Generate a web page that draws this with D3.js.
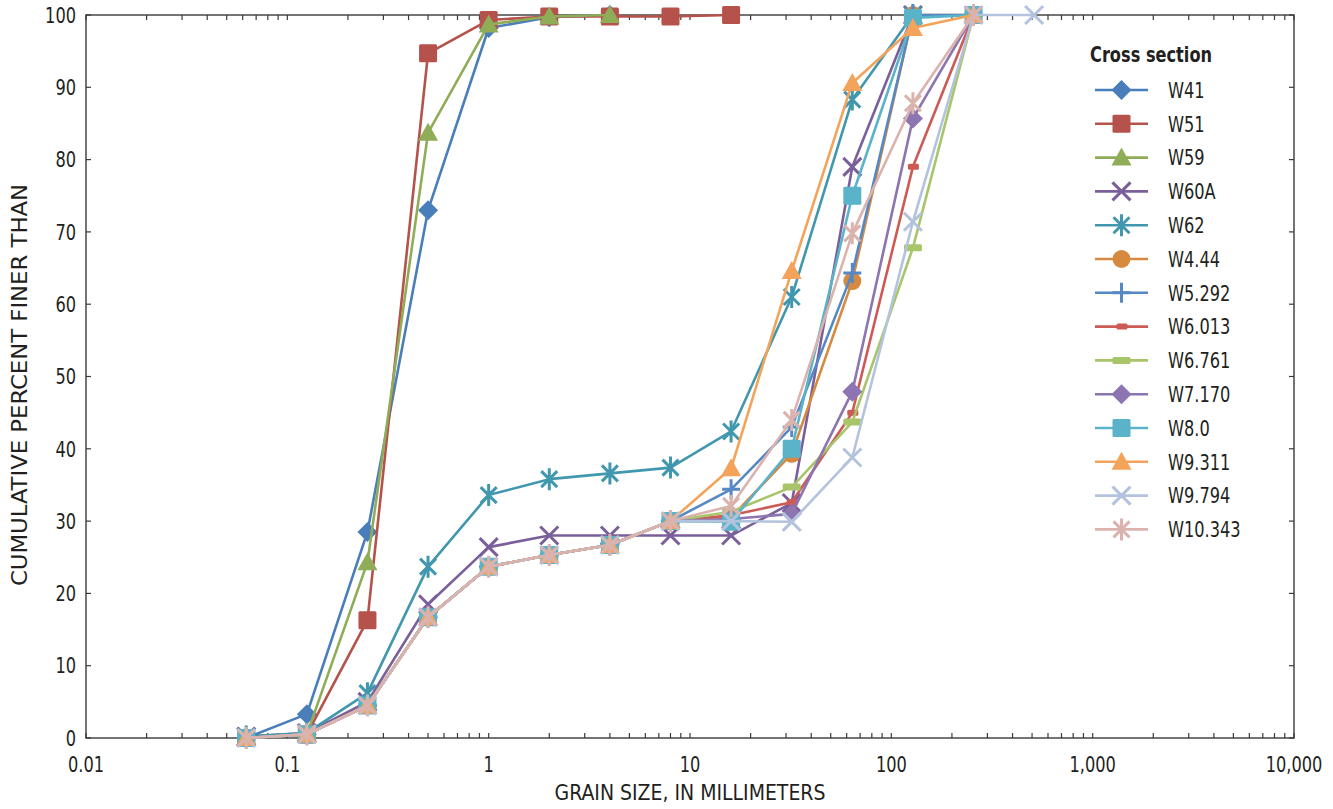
<!DOCTYPE html>
<html><head><meta charset="utf-8">
<script src="https://cdn.jsdelivr.net/npm/d3@7/dist/d3.min.js"></script>
<style>
body{margin:0;background:#fff}
svg text{font-family:'Liberation Sans Narrow','Arial Narrow','DejaVu Sans Condensed',sans-serif;fill:#231f20}
</style>
</head><body>
<svg id="chart" width="1333" height="809"></svg>
<script>
// ---- data ----
const grainSizes = [0.0625, 0.125, 0.25, 0.5, 1, 2, 4, 8, 16, 32, 64, 128, 256, 512];
const seriesNames = ["W41","W51","W59","W60A","W62","W4.44","W5.292","W6.013","W6.761","W7.170","W8.0","W9.311","W9.794","W10.343"];
const W41    = [0, 3.3, 28.5, 73, 98.2, 99.7, 100];
const W51    = [0, 0.5, 16.3, 94.7, 99.3, 99.8, 99.8, 99.8, 100];
const W59    = [0, 0.5, 24.3, 83.7, 98.7, 99.8, 100];
const W60A   = [0.2, 0.7, 5.0, 18.5, 26.4, 28, 28, 28, 28, 32.5, 79, 100];
const W62    = [0.2, 0.7, 6.2, 23.7, 33.6, 35.8, 36.6, 37.4, 42.4, 61, 88.3, 100];
const W4_44  = [0, 0.5, 4.5, 16.7, 23.7, 25.3, 26.7, 30, 30.5, 39.3, 63.2, 100, 100];
const W5_292 = [0, 0.5, 4.5, 16.7, 23.7, 25.3, 26.7, 30, 34.4, 43, 64.3, 100, 100];
const W6_013 = [0, 0.5, 4.5, 16.7, 23.7, 25.3, 26.7, 30, 30.8, 32.6, 45, 79, 100];
const W6_761 = [0, 0.5, 4.5, 16.7, 23.7, 25.3, 26.7, 30, 31.3, 34.7, 43.7, 67.8, 100];
const W7_170 = [0, 0.5, 4.5, 16.7, 23.7, 25.3, 26.7, 30, 30.3, 31, 47.9, 85.7, 100];
const W8_0   = [0, 0.5, 4.5, 16.7, 23.7, 25.3, 26.7, 30, 29.9, 40, 75, 99.6, 100];
const W9_311 = [0, 0.5, 4.5, 16.7, 23.7, 25.3, 26.7, 30, 37.3, 64.6, 90.6, 98.2, 100];
const W9_794 = [0, 0.5, 4.5, 16.7, 23.7, 25.3, 26.7, 30, 30, 29.9, 38.8, 71.4, 100, 100];
const W10_343= [0, 0.5, 4.5, 16.7, 23.7, 25.3, 26.7, 30, 32.1, 44, 69.8, 87.8, 100];
const seriesValues = [W41, W51, W59, W60A, W62, W4_44, W5_292, W6_013, W6_761, W7_170, W8_0, W9_311, W9_794, W10_343];
const xTickValues = [0.01, 0.1, 1, 10, 100, 1000, 10000];
const xTickLabels = ["0.01", "0.1", "1", "10", "100", "1,000", "10,000"];
const yTickValues = [0, 10, 20, 30, 40, 50, 60, 70, 80, 90, 100];

// ---- styles ----
const colors = ["#4a7ebb","#b5524c","#8fad57","#7a5f9a","#4198ae","#d68a40","#5588c4",
                "#cc5b55","#a8c56a","#8c75b0","#5ab3c8","#f4a35a","#b4c3dd","#dbb3ae"];
const markers = ["diamond","square","triangle","x","star","circle","plus",
                 "shortdash","longdash","diamond","square","triangle","x","star"];

const svg = d3.select("#chart");
const L = 86, R = 1294, T = 15, B = 738;
const x = d3.scaleLog().domain([0.01, 10000]).range([L, R]);
const y = d3.scaleLinear().domain([0, 100]).range([B, T]);

const axisColor = "#3a3a3a";
const minorTicks = [];
for (let e = -2; e < 4; e++) for (let k = 2; k <= 9; k++) minorTicks.push(k * Math.pow(10, e));

// tall condensed-looking text helper
function txt(parent, tx, ty, str, o) {
  o = o || {};
  const g = parent.append("g")
    .attr("transform", `translate(${tx},${ty})${o.rotate ? " rotate(" + o.rotate + ")" : ""} scale(${o.sx || 1},${o.sy || 1.2})`);
  const t = g.append("text").attr("x", 0).attr("y", 0)
    .attr("text-anchor", o.anchor || "start")
    .attr("dy", o.dy || "0.36em")
    .attr("font-size", o.size || 18)
    .text(str);
  if (o.bold) t.attr("font-weight", "bold");
  return t;
}

// frame
const axG = svg.append("g");
axG.append("rect").attr("x", L).attr("y", T).attr("width", R - L).attr("height", B - T)
  .attr("fill", "none").attr("stroke", axisColor).attr("stroke-width", 1.4);

// x ticks (bottom + top, inward)
const allX = xTickValues.concat(minorTicks);
allX.forEach(v => {
  axG.append("line").attr("x1", x(v)).attr("x2", x(v)).attr("y1", B).attr("y2", B - 5)
    .attr("stroke", axisColor).attr("stroke-width", 1.2);
  axG.append("line").attr("x1", x(v)).attr("x2", x(v)).attr("y1", T).attr("y2", T + 5)
    .attr("stroke", axisColor).attr("stroke-width", 1.2);
});
// y ticks (left + right, inward)
yTickValues.forEach(v => {
  axG.append("line").attr("x1", L).attr("x2", L + 5).attr("y1", y(v)).attr("y2", y(v))
    .attr("stroke", axisColor).attr("stroke-width", 1.2);
  axG.append("line").attr("x1", R).attr("x2", R - 5).attr("y1", y(v)).attr("y2", y(v))
    .attr("stroke", axisColor).attr("stroke-width", 1.2);
});

// tick labels
xTickValues.forEach((v, i) => {
  txt(svg, x(v), 764, xTickLabels[i], {anchor: "middle"});
});
yTickValues.forEach(v => {
  txt(svg, 76, y(v), String(v), {anchor: "end"});
});

// axis titles
txt(svg, (L + R) / 2, 792, "GRAIN SIZE, IN MILLIMETERS", {anchor: "middle", size: 20, sx: 1.05, sy: 1.1});
txt(svg, 19, 385, "CUMULATIVE PERCENT FINER THAN", {anchor: "middle", size: 22, sx: 1.15, sy: 1.0, rotate: -90});

// marker drawing
function drawMarker(g, type, color) {
  const sw = 3;
  switch (type) {
    case "diamond":
      g.append("path").attr("d", "M0,-10L10,0L0,10L-10,0Z").attr("fill", color);
      break;
    case "square":
      g.append("rect").attr("x", -9).attr("y", -9).attr("width", 18).attr("height", 18)
        .attr("rx", 1.5).attr("fill", color);
      break;
    case "triangle":
      g.append("path").attr("d", "M0,-10L10,8L-10,8Z").attr("fill", color);
      break;
    case "circle":
      g.append("circle").attr("r", 9).attr("fill", color);
      break;
    case "x":
      g.append("path").attr("d", "M-9,-9L9,9M-9,9L9,-9").attr("stroke", color)
        .attr("stroke-width", sw).attr("fill", "none");
      break;
    case "star":
      g.append("path").attr("d", "M-8,-8L8,8M-8,8L8,-8M0,-11L0,11").attr("stroke", color)
        .attr("stroke-width", sw).attr("fill", "none");
      break;
    case "plus":
      g.append("path").attr("d", "M-9,0L9,0M0,-10L0,10").attr("stroke", color)
        .attr("stroke-width", sw).attr("fill", "none");
      break;
    case "shortdash":
      g.append("rect").attr("x", -5).attr("y", -3).attr("width", 11).attr("height", 6)
        .attr("rx", 1.5).attr("fill", color);
      break;
    case "longdash":
      g.append("rect").attr("x", -9).attr("y", -3.5).attr("width", 18).attr("height", 7)
        .attr("rx", 1.5).attr("fill", color);
      break;
  }
}

// series
const line = d3.line().x(d => x(d[0])).y(d => y(d[1]));
seriesValues.forEach((vals, i) => {
  const pts = vals.map((v, j) => [grainSizes[j], v]);
  const g = svg.append("g");
  g.append("path").attr("d", line(pts)).attr("fill", "none")
    .attr("stroke", colors[i]).attr("stroke-width", 2.6).attr("stroke-linejoin", "round");
  pts.forEach(p => {
    const mg = g.append("g").attr("transform", `translate(${x(p[0])},${y(p[1])})`);
    drawMarker(mg, markers[i], colors[i]);
  });
});

// legend
const lg = svg.append("g");
txt(lg, 1090, 54, "Cross section", {bold: true, size: 18});
seriesNames.forEach((name, i) => {
  const yy = 90 + i * 33.8;
  lg.append("line").attr("x1", 1095).attr("x2", 1148).attr("y1", yy).attr("y2", yy)
    .attr("stroke", colors[i]).attr("stroke-width", 2.6);
  const mg = lg.append("g").attr("transform", `translate(1121.5,${yy})`);
  drawMarker(mg, markers[i], colors[i]);
  txt(lg, 1168, yy, name, {});
});
</script>
</body></html>
